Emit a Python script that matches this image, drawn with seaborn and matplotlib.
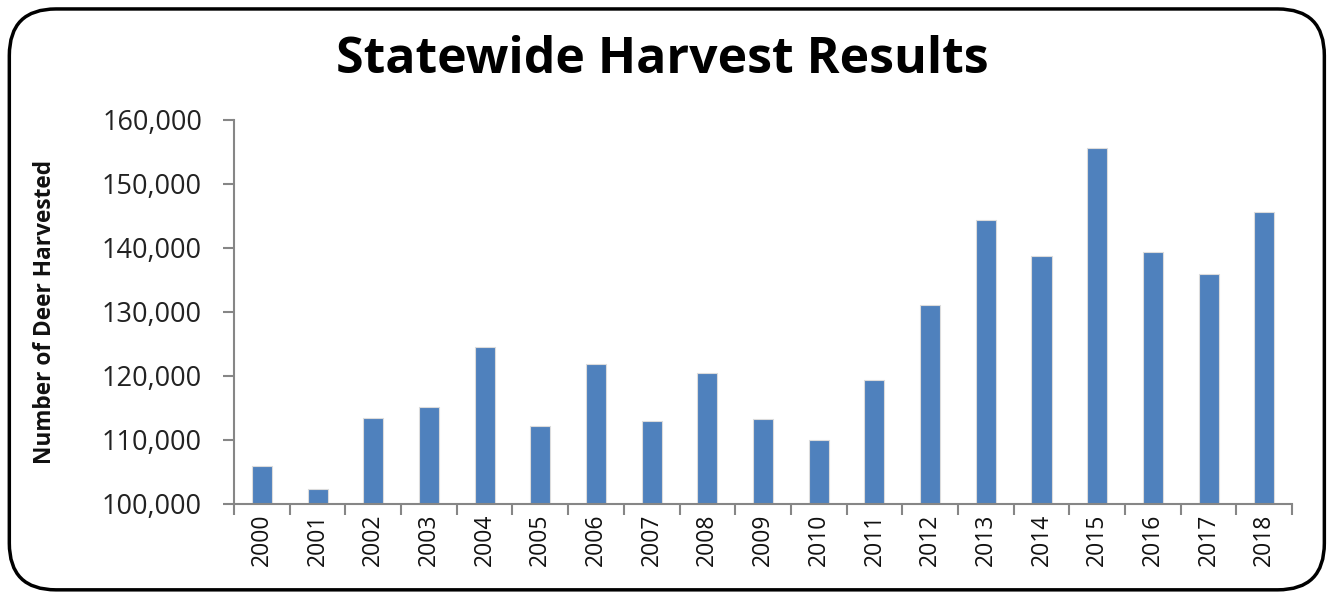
import matplotlib
matplotlib.use("Agg")
import matplotlib.pyplot as plt
import seaborn as sns
import pandas as pd
import numpy as np
from matplotlib.patches import FancyBboxPatch
from matplotlib.ticker import FuncFormatter, FixedLocator

years = ["2000", "2001", "2002", "2003", "2004", "2005", "2006", "2007", "2008", "2009",
         "2010", "2011", "2012", "2013", "2014", "2015", "2016", "2017", "2018"]
harvest = [105900, 102300, 113400, 115200, 124500, 112200, 121900, 113000, 120500, 113300,
           110000, 119400, 131100, 144400, 138700, 155600, 139400, 135900, 145600]
y_ticks = [100000, 110000, 120000, 130000, 140000, 150000, 160000]

df = pd.DataFrame({"year": years, "harvest": harvest})

sns.set_theme(style="white")
plt.rcParams['font.family'] = ['Open Sans', 'DejaVu Sans']

fig = plt.figure(figsize=(13.31, 5.97), dpi=100)
ax = fig.add_axes([0.1758, 0.1558, 0.795, 0.6432])

sns.barplot(data=df, x="year", y="harvest", color="#4F81BD", saturation=1,
            width=0.36, edgecolor="#dcdcdc", linewidth=0.8, ax=ax)

ax.set_ylim(100000, 160000)
ax.set_xlim(-0.5, len(years) - 0.5)
ax.yaxis.set_major_locator(FixedLocator(y_ticks))
ax.yaxis.set_major_formatter(FuncFormatter(lambda v, p: f"{int(v):,}"))

for s in ["top", "right"]:
    ax.spines[s].set_visible(False)
for s in ["left", "bottom"]:
    ax.spines[s].set_color("#868686")
    ax.spines[s].set_linewidth(1.5)

ax.tick_params(axis="y", which="major", direction="out", length=8, width=1.5,
               color="#868686", labelsize=19.5, labelcolor="#222222", pad=15, left=True)
ax.tick_params(axis="x", which="major", length=0, labelsize=16.5, labelcolor="#111111",
               labelrotation=90, pad=7)
ax.set_xticks(np.arange(-0.5, len(years), 1.0), minor=True)
ax.tick_params(axis="x", which="minor", direction="out", length=8, width=1.5,
               color="#868686", bottom=True)

ax.set_xlabel("")
ax.set_ylabel("Number of Deer Harvested", fontsize=16.3, fontweight="bold",
              color="#111111", labelpad=32)

fig.text(0.4975, 0.9, "Statewide Harvest Results", ha="center", va="center",
         fontsize=36, fontweight="bold", color="#000000")

border = FancyBboxPatch((0.007, 0.012), 0.988, 0.973,
                        boxstyle="round,pad=0,rounding_size=0.035",
                        transform=fig.transFigure, fill=False,
                        edgecolor="black", linewidth=2.5, mutation_aspect=13.31/5.97)
fig.patches.append(border)

fig.savefig("out.png", dpi=100, facecolor="white")
